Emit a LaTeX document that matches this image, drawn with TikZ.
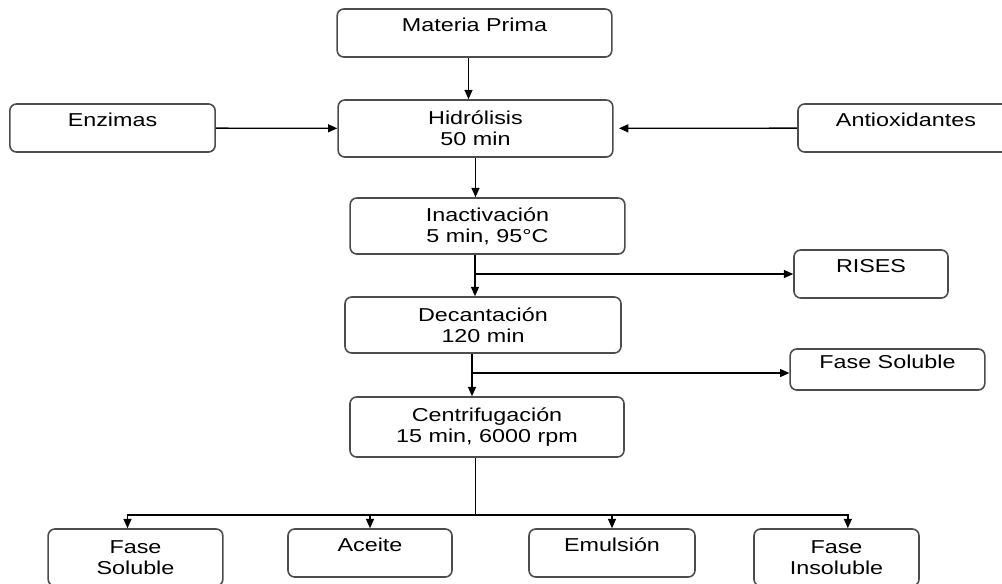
\documentclass[tikz,border=0pt]{standalone}
\usepackage{fontspec}
\setmainfont[FakeStretch=1.25]{Liberation Sans}
\usetikzlibrary{arrows.meta}

\tikzset{
  proc/.style={draw=black!70, line width=1.2pt, rounded corners=5pt, align=center,
    inner xsep=2pt, inner ysep=0pt, font=\fontsize{14pt}{15.75pt}\selectfont},
  oneline/.style={proc, text height=10pt, text depth=12pt},
  flow/.style={-{Triangle[length=7pt,width=6pt]}, line width=1pt}
}

\begin{document}
\begin{tikzpicture}[x=0.75pt,y=-0.75pt]
  \useasboundingbox (0,0) rectangle (1002,583);

  % main line
  \node[oneline, minimum width=206pt, minimum height=36pt] (materia) at (474.5,33) {Materia Prima};
  \node[proc, minimum width=206pt, minimum height=42.75pt] (hidrolisis) at (475.5,128.5) {Hidrólisis\\50 min};
  \node[proc, minimum width=206pt, minimum height=42pt] (inact) at (487.5,226) {Inactivación\\5 min, 95°C};
  \node[proc, minimum width=207pt, minimum height=42pt] (decant) at (483,325) {Decantación\\120 min};
  \node[proc, minimum width=205.5pt, minimum height=45pt] (centrif) at (487,427) {Centrifugación\\15 min, 6000 rpm};

  % inputs and outputs at the side
  \node[oneline, minimum width=154pt, minimum height=36pt] (enzimas) at (112.5,128) {Enzimas};
  \node[oneline, minimum width=162pt, minimum height=36pt] (antiox) at (906,128) {Antioxidantes};
  \node[oneline, minimum width=115.5pt, minimum height=36pt] (rises) at (871,274) {RISES};
  \node[oneline, minimum width=146pt, minimum height=30.75pt] (solsep) at (887.5,369.5) {Fase Soluble};

  % products
  \node[proc, minimum width=131pt, minimum height=42.75pt] (soluble) at (135.5,557.5) {Fase\\Soluble};
  \node[oneline, minimum width=123pt, minimum height=36pt] (aceite) at (370,553) {Aceite};
  \node[oneline, minimum width=124.5pt, minimum height=36pt] (emulsion) at (612,553) {Emulsión};
  \node[proc, minimum width=123.75pt, minimum height=42.75pt] (insoluble) at (836.5,557.5) {Fase\\Insoluble};

  \coordinate (spine) at (475,0);
  \coordinate (b1) at (475,274);
  \coordinate (b2) at (472,373);
  \coordinate (split) at (475,515);

  \draw[flow] ([xshift=-4.5pt]materia.south) -- ([xshift=-4.5pt]materia.south |- hidrolisis.north);
  \draw[flow] (enzimas) -- (hidrolisis);
  \draw[flow, shorten >=4pt] (antiox) -- (hidrolisis);
  \draw[flow] (hidrolisis.south) -- (hidrolisis.south |- inact.north);
  \draw[flow] (inact.south -| spine) -- (decant.north -| spine);
  \draw[flow] (b1) -- (b1 -| rises.west);
  \draw[flow] (decant.south -| b2) -- (centrif.north -| b2);
  \draw[flow] (b2) -- (b2 -| solsep.west);
  \draw (centrif.south -| split) -- (split);
  \draw[flow] (split) -| ([xshift=-6pt]soluble.north);
  \draw[flow] (split) -| (aceite.north);
  \draw[flow] (split) -| (emulsion.north);
  \draw[flow] (split) -| ([xshift=8.5pt]insoluble.north);
\end{tikzpicture}
\end{document}
